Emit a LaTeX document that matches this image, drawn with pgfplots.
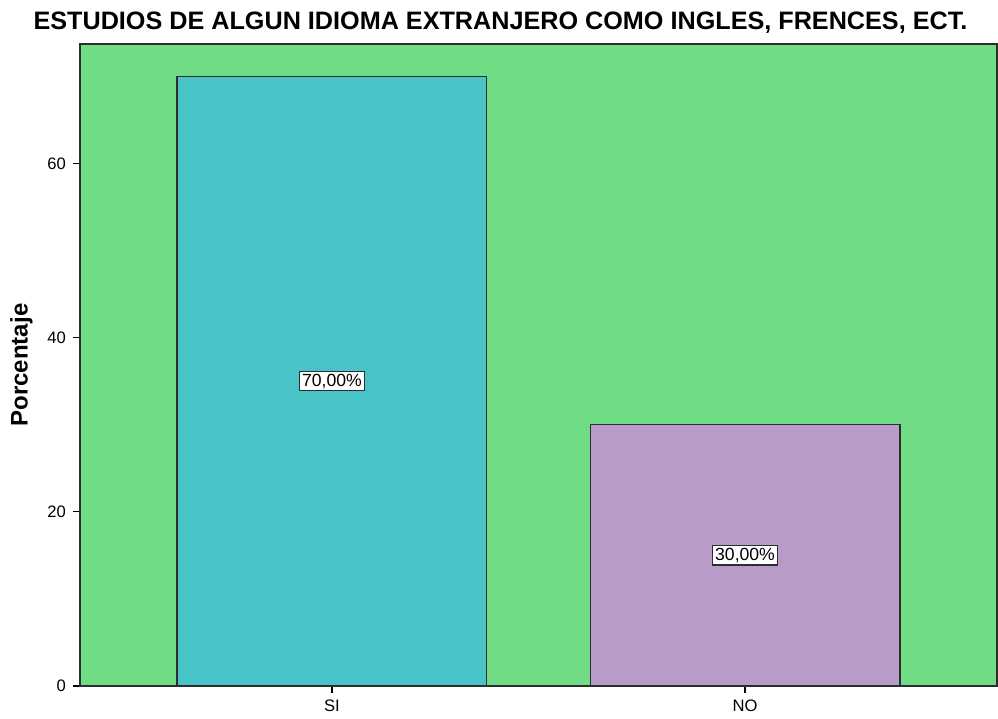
\documentclass[border=0pt]{standalone}
\usepackage{fontspec}
\setmainfont{Liberation Sans}
\usepackage{pgfplots}
\pgfplotsset{compat=1.18}
\usetikzlibrary{calc}

\definecolor{bggreen}{RGB}{112,220,134}
\definecolor{barsi}{RGB}{72,195,200}
\definecolor{barno}{RGB}{184,155,200}
\definecolor{edge}{RGB}{45,45,45}

\begin{document}
\begin{tikzpicture}
\begin{axis}[
    scale only axis,
    width=458.5pt, height=321pt,
    xmin=-0.61, xmax=1.61,
    ymin=0, ymax=73.7,
    xtick={0,1}, xticklabels={SI,NO},
    ytick={0,20,40,60},
    xtick pos=left, ytick pos=left,
    tick align=outside,
    major tick length=3.5pt,
    tick style={black, line width=0.7pt},
    axis line style={edge, line width=0.7pt},
    axis background/.style={fill=bggreen},
    /pgf/number format/assume math mode=true,
    tick label style={font=\fontsize{8.3}{10}\selectfont},
    ylabel={Porcentaje},
    ylabel style={font=\fontsize{12}{14}\selectfont\bfseries, at={(axis description cs:0,0.5)}, anchor=south, inner sep=0pt, yshift=23.5pt},
    title={ESTUDIOS DE ALGUN IDIOMA EXTRANJERO COMO INGLES, FRENCES, ECT.},
    title style={font=\fontsize{12.6}{14}\selectfont\bfseries, at={(axis description cs:0.5,1)}, anchor=south, inner sep=0pt, yshift=-1pt, xshift=-19pt},
]
% bars
\addplot[ybar, bar width=0.75, fill=barsi, draw=edge, line width=0.6pt] coordinates {(0,70)};
\addplot[ybar, bar width=0.75, fill=barno, draw=edge, line width=0.6pt] coordinates {(1,30)};
% value labels in the middle of each bar
\addplot[only marks, mark=none, point meta=explicit symbolic,
    nodes near coords,
    nodes near coords style={anchor=center, fill=white, draw=edge, line width=0.6pt,
        inner sep=1.2pt, font=\fontsize{8.8}{10}\selectfont}]
    coordinates {(0,35)[70,00\%] (1,15)[30,00\%]};
\end{axis}
\pgfresetboundingbox
\path[use as bounding box] ($(current axis.south west)+(-40pt,-16pt)$) rectangle ($(current axis.north east)+(0.5pt,22pt)$);
\end{tikzpicture}
\end{document}
